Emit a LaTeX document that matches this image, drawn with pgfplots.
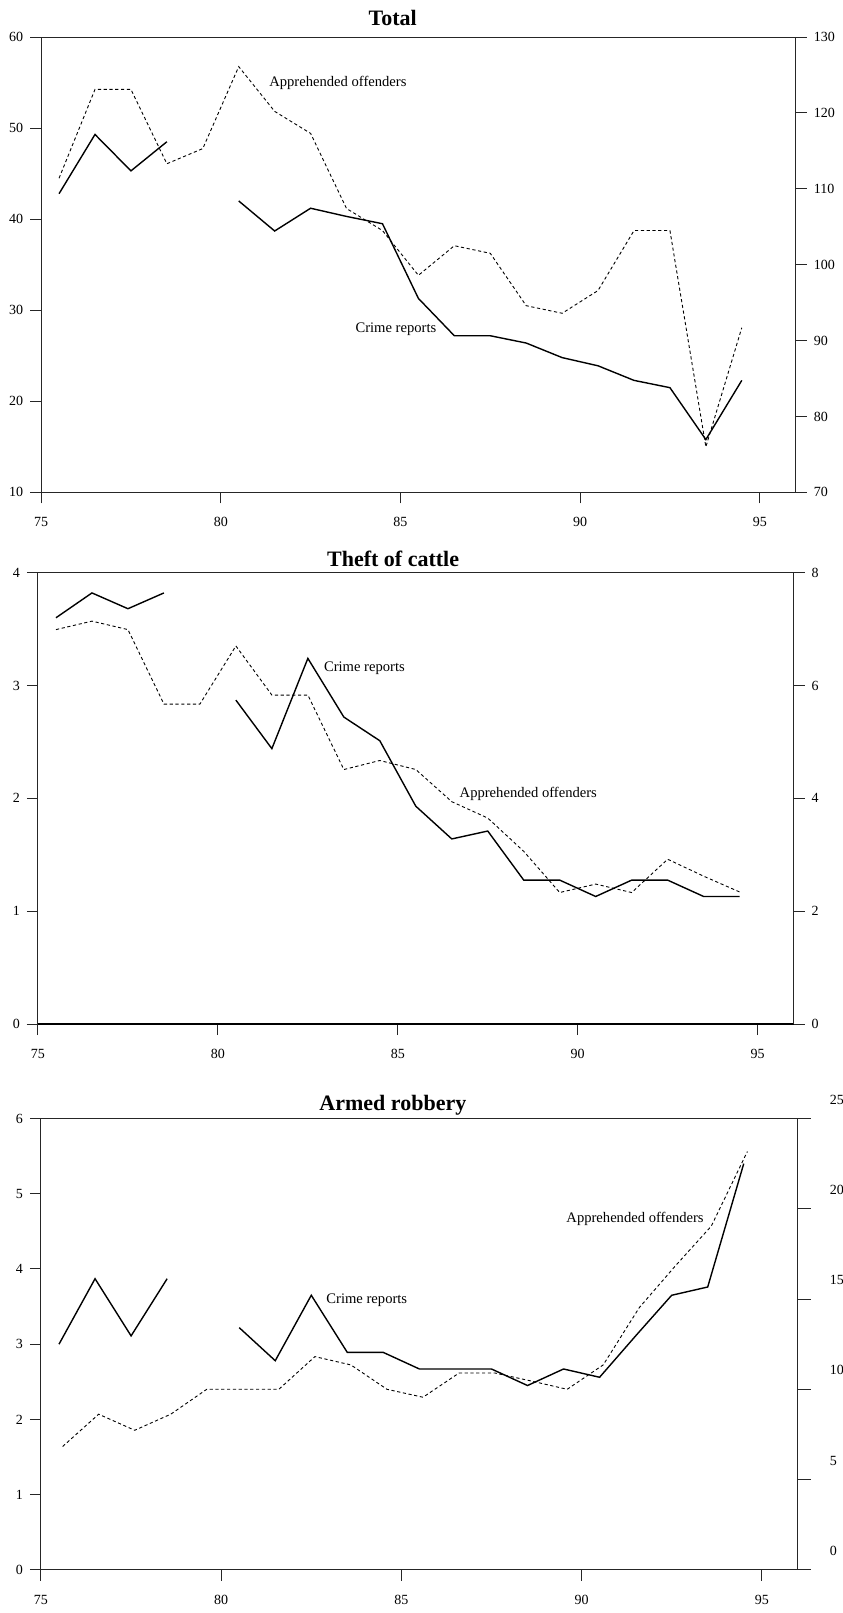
\documentclass[border=0pt]{standalone}
\usepackage{fontspec}
\setmainfont{Liberation Serif}
\usepackage{pgfplots}
\pgfplotsset{compat=1.18}

\tikzset{lab/.style={font=\fontsize{7.3}{8}\selectfont, anchor=west, inner sep=0pt}}
\pgfplotsset{
  panel/.style={
    scale only axis, anchor=north west,
    xmin=75, xmax=96,
    tick align=outside, major tick length=5.5pt,
    axis line style={black!85, line width=0.5pt},
    every tick/.style={black!85, line width=0.5pt},
    tick label style={font=\fontsize{7}{8}\selectfont},
    /pgf/number format/assume math mode=true,
    clip=false,
  },
  leftax/.style={panel,
    xtick={75,80,...,95}, xtick pos=left, ytick pos=left,
    xticklabel style={yshift=-3.5pt},
    title style={font=\bfseries\fontsize{11}{12}\selectfont, anchor=center},
  },
  rightax/.style={panel,
    axis x line=none, axis y line*=right,
  },
  crime/.style={black, line width=0.7pt},
  appr/.style={black, line width=0.45pt, dash pattern=on 1.6pt off 1.3pt},
}

\begin{document}
\begin{tikzpicture}
\path[use as bounding box] (0,0) rectangle (421pt,-806.5pt);

% ---------------- Total ----------------
\begin{axis}[leftax, at={(20.55pt,-18.5pt)}, width=377.3pt, height=227.7pt,
  ymin=10, ymax=60, ytick={10,20,...,60},
  title={Total}, title style={at={(0.466,1)}, yshift=3.75pt}]
\addplot[crime] coordinates {(75.5,42.8) (76.5,49.3) (77.5,45.3) (78.5,48.5)};
\addplot[crime] coordinates {
  (80.5,42.0) (81.5,38.7) (82.5,41.2) (83.5,40.3) (84.5,39.5) (85.5,31.3)
  (86.5,27.2) (87.5,27.2) (88.5,26.4) (89.5,24.8) (90.5,23.9) (91.5,22.3)
  (92.5,21.5) (93.5,15.8) (94.5,22.3)};
\node[lab] at (axis cs:81.34,55.0) {Apprehended offenders};
\node[lab] at (axis cs:83.74,27.95) {Crime reports};
\end{axis}
\begin{axis}[rightax, at={(20.55pt,-18.5pt)}, width=377.3pt, height=227.7pt,
  ymin=70, ymax=130, ytick={70,80,...,130}]
\addplot[appr] coordinates {
  (75.5,111.4) (76.5,123.1) (77.5,123.1) (78.5,113.3) (79.5,115.3) (80.5,126.1)
  (81.5,120.2) (82.5,117.3) (83.5,107.4) (84.5,104.5) (85.5,98.6) (86.5,102.5)
  (87.5,101.5) (88.5,94.6) (89.5,93.6) (90.5,96.6) (91.5,104.5) (92.5,104.5)
  (93.5,76.0) (94.5,91.7)};
\end{axis}

% ---------------- Theft of cattle ----------------
\begin{axis}[leftax, at={(19pt,-286.3pt)}, width=377.8pt, height=225.7pt,
  ymin=0, ymax=4, ytick={0,1,...,4},
  extra y ticks={0}, extra y tick labels={},
  extra y tick style={grid=major, major grid style={black, line width=1.1pt}},
  title={Theft of cattle}, title style={at={(0.47,1)}, yshift=0.8pt}]
\addplot[crime] coordinates {(75.5,3.60) (76.5,3.82) (77.5,3.68) (78.5,3.82)};
\addplot[crime] coordinates {
  (80.5,2.87) (81.5,2.44) (82.5,3.24) (83.5,2.72) (84.5,2.51) (85.5,1.93)
  (86.5,1.64) (87.5,1.71) (88.5,1.275) (89.5,1.275) (90.5,1.13) (91.5,1.275)
  (92.5,1.275) (93.5,1.13) (94.5,1.13)};
\node[lab] at (axis cs:82.94,3.15) {Crime reports};
\node[lab] at (axis cs:86.71,2.04) {Apprehended offenders};
\end{axis}
\begin{axis}[rightax, at={(19pt,-286.3pt)}, width=377.8pt, height=225.7pt,
  ymin=0, ymax=8, ytick={0,2,...,8}]
\addplot[appr] coordinates {
  (75.5,6.99) (76.5,7.14) (77.5,6.99) (78.5,5.67) (79.5,5.67) (80.5,6.70)
  (81.5,5.83) (82.5,5.83) (83.5,4.51) (84.5,4.67) (85.5,4.51) (86.5,3.94)
  (87.5,3.65) (88.5,3.06) (89.5,2.33) (90.5,2.48) (91.5,2.33) (92.5,2.92)
  (93.5,2.62) (94.5,2.34)};
\end{axis}

% ---------------- Armed robbery ----------------
\begin{axis}[leftax, at={(20.5pt,-559.25pt)}, width=378.4pt, height=225.65pt,
  ymin=0, ymax=6, ytick={0,1,...,6},
  title={Armed robbery}, title style={at={(0.465,1)}, yshift=0.5pt}]
\addplot[crime] coordinates {(75.5,3.00) (76.5,3.87) (77.5,3.11) (78.5,3.87)};
\addplot[crime] coordinates {
  (80.5,3.22) (81.5,2.78) (82.5,3.65) (83.5,2.89) (84.5,2.89) (85.5,2.67)
  (86.5,2.67) (87.5,2.67) (88.5,2.45) (89.5,2.67) (90.5,2.56) (91.5,3.11)
  (92.5,3.65) (93.5,3.76) (94.5,5.40)};
\node[lab] at (axis cs:89.57,4.67) {Apprehended offenders};
\node[lab] at (axis cs:82.91,3.59) {Crime reports};
\end{axis}
\begin{axis}[rightax, at={(20.5pt,-559.25pt)}, width=378.4pt, height=225.65pt,
  ymin=0, ymax=25, ytick={0,5,...,25}, major tick length=6.5pt,
  yticklabel style={yshift=9.5pt, xshift=6pt}]
\addplot[appr] coordinates {
  (75.6,6.83) (76.6,8.62) (77.6,7.73) (78.6,8.62) (79.6,10.0) (80.6,10.0)
  (81.6,10.0) (82.6,11.81) (83.6,11.35) (84.6,10.0) (85.6,9.56) (86.6,10.9)
  (87.6,10.9) (88.6,10.46) (89.6,10.0) (90.6,11.35) (91.6,14.52) (92.6,16.83)
  (93.6,19.04) (94.6,23.17)};
\end{axis}
\end{tikzpicture}
\end{document}
